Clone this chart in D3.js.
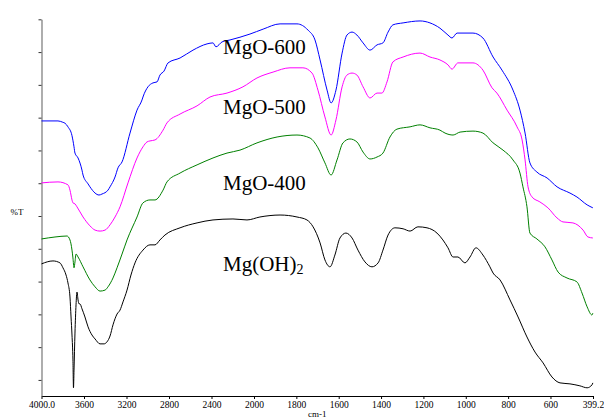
<!DOCTYPE html>
<html>
<head>
<meta charset="utf-8">
<script src="https://cdn.jsdelivr.net/npm/d3@7"></script>
<style>
  body { margin: 0; background: #fff; }
  text { font-family: "Liberation Serif", "Times New Roman", "DejaVu Serif", serif; }
</style>
</head>
<body>
<div id="chart"></div>
<script>
// wavenumber ticks (cm-1), axis is compressed above 2000
const xTicks = [4000, 3600, 3200, 2800, 2400, 2000, 1800, 1600, 1400, 1200, 1000, 800, 600, 399.2];
const yTicks = [0, 10, 20, 30, 40, 50, 60, 70, 80, 90, 100, 110];

const mgo600Wn = [4000, 3845, 3800, 3779, 3751, 3713, 3694, 3685, 3656, 3619, 3609, 3562, 3544, 3496, 3459, 3431, 3374, 3355, 3308, 3280, 3242, 3167, 3101, 3054, 3045, 2998, 2951, 2913, 2885, 2847, 2809, 2696, 2574, 2442, 2386, 2358, 2301, 2226, 2038, 1957, 1877, 1797, 1745, 1712, 1688, 1655, 1636, 1613, 1584, 1561, 1537, 1514, 1485, 1452, 1419, 1391, 1367, 1344, 1296, 1216, 1169, 1122, 1084, 1065, 1041, 966, 919, 871, 829, 777, 744, 720, 697, 664, 616, 569, 508, 475, 427, 400];
const mgo600T = [79.0, 79.0, 78.6, 78.3, 77.2, 74.5, 71.1, 69.2, 67.7, 64.0, 62.5, 59.8, 58.9, 57.0, 56.4, 56.7, 57.9, 58.9, 61.9, 64.7, 66.5, 75.3, 82.3, 85.4, 86.3, 89.4, 90.6, 90.9, 93.0, 94.2, 96.7, 98.2, 100.6, 102.5, 102.8, 101.6, 103.1, 103.7, 105.5, 107.0, 108.6, 108.6, 106.7, 103.7, 97.6, 88.4, 84.5, 88.4, 99.7, 105.2, 106.1, 105.2, 102.8, 100.6, 102.2, 102.8, 106.1, 108.3, 108.9, 109.5, 108.9, 107.3, 105.2, 104.3, 105.8, 105.8, 104.3, 98.5, 94.5, 88.4, 82.3, 75.3, 66.2, 63.4, 61.6, 58.9, 57.0, 55.8, 53.4, 52.5];

const mgo500Wn = [4000, 3845, 3751, 3732, 3713, 3704, 3685, 3666, 3609, 3544, 3496, 3449, 3402, 3355, 3308, 3261, 3186, 3101, 3045, 3007, 2979, 2932, 2856, 2819, 2696, 2536, 2414, 2254, 2104, 1986, 1910, 1830, 1769, 1726, 1698, 1665, 1636, 1613, 1584, 1561, 1537, 1514, 1485, 1452, 1419, 1396, 1372, 1344, 1296, 1216, 1169, 1122, 1084, 1065, 1037, 966, 919, 876, 853, 805, 758, 734, 720, 706, 687, 650, 612, 569, 541, 494, 446, 423, 400];
const mgo500T = [60.1, 60.4, 59.5, 57.9, 54.9, 54.0, 53.7, 52.8, 49.7, 47.0, 45.7, 45.4, 45.7, 47.3, 49.7, 52.8, 60.1, 67.7, 71.1, 72.6, 72.9, 73.2, 76.2, 78.4, 81.1, 83.6, 86.3, 87.5, 89.4, 92.1, 93.9, 95.2, 95.2, 93.6, 88.4, 80.2, 74.7, 79.3, 89.4, 93.0, 93.6, 93.0, 89.4, 86.0, 87.5, 87.5, 90.9, 97.0, 98.5, 99.7, 98.5, 97.6, 96.1, 94.8, 96.7, 96.7, 94.5, 89.1, 87.5, 82.3, 77.2, 73.2, 67.1, 58.9, 55.8, 54.3, 52.5, 49.4, 48.2, 47.9, 45.7, 43.6, 43.3];

const mgo400Wn = [4000, 3873, 3760, 3732, 3713, 3704, 3694, 3685, 3675, 3656, 3609, 3544, 3496, 3449, 3402, 3374, 3327, 3289, 3242, 3195, 3101, 3045, 2979, 2932, 2856, 2819, 2696, 2536, 2386, 2254, 2132, 1986, 1891, 1797, 1736, 1698, 1665, 1636, 1608, 1580, 1547, 1514, 1485, 1452, 1419, 1391, 1358, 1325, 1263, 1216, 1169, 1122, 1098, 1060, 1027, 966, 919, 871, 824, 777, 744, 730, 711, 697, 664, 626, 593, 564, 522, 475, 451, 427, 404, 400];
const mgo400T = [43.0, 43.6, 43.9, 42.7, 39.6, 37.2, 34.2, 36.0, 38.4, 37.5, 34.5, 30.5, 28.4, 27.1, 27.4, 28.4, 31.1, 34.2, 38.4, 42.7, 49.7, 54.0, 54.9, 54.9, 57.9, 60.4, 63.1, 65.6, 67.7, 69.2, 70.1, 72.3, 74.1, 74.7, 73.8, 70.8, 66.2, 62.5, 67.1, 72.3, 73.5, 72.6, 69.5, 67.4, 68.0, 69.2, 74.1, 76.5, 77.2, 77.8, 76.9, 76.2, 75.3, 74.7, 75.6, 75.9, 75.3, 72.3, 70.1, 67.1, 63.1, 58.9, 52.8, 44.8, 43.0, 40.6, 36.6, 32.9, 31.1, 29.9, 26.5, 22.3, 19.8, 20.4];

const mgoh2Wn = [4000, 3892, 3826, 3798, 3769, 3751, 3732, 3722, 3713, 3704, 3699, 3694, 3685, 3675, 3666, 3656, 3647, 3638, 3619, 3591, 3562, 3525, 3496, 3449, 3412, 3384, 3355, 3327, 3289, 3261, 3233, 3195, 3158, 3120, 3045, 2979, 2932, 2885, 2838, 2696, 2536, 2386, 2198, 2066, 1972, 1877, 1797, 1750, 1721, 1688, 1665, 1641, 1618, 1594, 1566, 1537, 1509, 1476, 1443, 1414, 1391, 1367, 1334, 1296, 1263, 1226, 1183, 1136, 1108, 1084, 1060, 1037, 1004, 980, 952, 919, 886, 871, 838, 791, 753, 711, 673, 635, 593, 555, 508, 461, 427, 404, 400];
const mgoh2T = [35.4, 36.3, 35.7, 34.2, 32.0, 29.6, 25.3, 19.2, 13.7, 6.1, -2.4, 3.0, 14.3, 22.9, 26.8, 24.4, 23.2, 23.2, 21.7, 19.2, 16.2, 13.7, 12.5, 11.0, 11.0, 11.6, 13.4, 16.8, 20.1, 21.3, 23.8, 27.4, 32.0, 35.7, 39.6, 41.2, 41.2, 42.7, 44.2, 46.4, 47.9, 48.8, 49.1, 48.8, 49.7, 50.3, 49.7, 48.8, 46.7, 41.8, 36.6, 34.5, 38.1, 43.3, 44.8, 43.3, 39.6, 36.0, 34.5, 35.7, 39.6, 44.2, 46.4, 46.1, 45.4, 46.7, 46.4, 44.8, 42.7, 40.3, 37.5, 37.5, 35.7, 37.5, 40.3, 38.1, 34.5, 32.6, 30.5, 24.4, 19.2, 13.1, 8.5, 5.2, 0.9, -0.9, -1.2, -1.8, -2.4, -1.5, -0.9];

const seriesNames = ['MgO-600', 'MgO-500', 'MgO-400', 'Mg(OH)2'];
const seriesColors = ['#0000ff', '#ff00ff', '#008000', '#000000'];
// label anchor points (wavenumber, %T) where each label text starts
const labelWn = [2292, 2292, 2292, 2292];
const labelT = [99.4, 81.1, 57.9, 33.2];

const width = 604;
const height = 420;
const plot = { left: 41.5, right: 593, top: 19.3, bottom: 396 };

const svg = d3.select('#chart')
  .append('svg')
  .attr('width', width)
  .attr('height', height);

const x = d3.scaleLinear()
  .domain([4000, 2000, 399.2])
  .range([plot.left, 254, plot.right]);

const y = d3.scaleLinear()
  .domain([-4.9, 110])
  .range([plot.bottom, plot.top]);

const fmt = (d) => d === 4000 ? '4000.0' : d === 399.2 ? '399.2' : String(d);

const xAxis = svg.append('g')
  .attr('transform', `translate(0, ${plot.bottom})`)
  .call(d3.axisBottom(x).tickValues(xTicks).tickFormat(fmt).tickSize(3).tickSizeOuter(0));
xAxis.attr('font-family', null);
xAxis.select('.domain').attr('stroke', '#000').attr('stroke-width', 1.2);
xAxis.selectAll('.tick line').attr('stroke', '#000');
xAxis.selectAll('.tick text')
  .style('font-family', '"Liberation Serif", "Times New Roman", serif')
  .attr('font-size', '9.5px')
  .attr('fill', '#000')
  .attr('dy', '0.75em')
  .attr('y', 5);

const yAxis = svg.append('g')
  .attr('transform', `translate(${plot.left}, 0)`)
  .call(d3.axisLeft(y).tickValues(yTicks).tickFormat('').tickSize(3).tickSizeOuter(0));
yAxis.select('.domain').attr('stroke', '#777').attr('stroke-width', 1.2);
yAxis.selectAll('.tick line').attr('stroke', '#333');

svg.append('text')
  .attr('x', 17)
  .attr('y', 215)
  .attr('text-anchor', 'middle')
  .attr('font-size', '9px')
  .text('%T');

svg.append('text')
  .attr('x', (plot.left + plot.right) / 2)
  .attr('y', 417)
  .attr('text-anchor', 'middle')
  .attr('font-size', '9px')
  .text('cm-1');

const series = [
  { wn: mgo600Wn, t: mgo600T },
  { wn: mgo500Wn, t: mgo500T },
  { wn: mgo400Wn, t: mgo400T },
  { wn: mgoh2Wn, t: mgoh2T },
];

const line = d3.line()
  .x((d) => x(d[0]))
  .y((d) => y(d[1]))
  .curve(d3.curveMonotoneX);

series.forEach((s, i) => {
  svg.append('path')
    .datum(d3.zip(s.wn, s.t))
    .attr('fill', 'none')
    .attr('stroke', seriesColors[i])
    .attr('stroke-width', 1)
    .attr('d', line);
});

// curve labels
seriesNames.forEach((name, i) => {
  const t = svg.append('text')
    .attr('x', x(labelWn[i]))
    .attr('y', y(labelT[i]))
    .attr('text-anchor', 'start')
    .attr('font-size', '21px')
    .attr('fill', '#000');
  if (name === 'Mg(OH)2') {
    t.append('tspan').text('Mg(OH)');
    t.append('tspan').attr('font-size', '14px').attr('dy', 3).text('2');
  } else {
    t.text(name);
  }
});
</script>
</body>
</html>
